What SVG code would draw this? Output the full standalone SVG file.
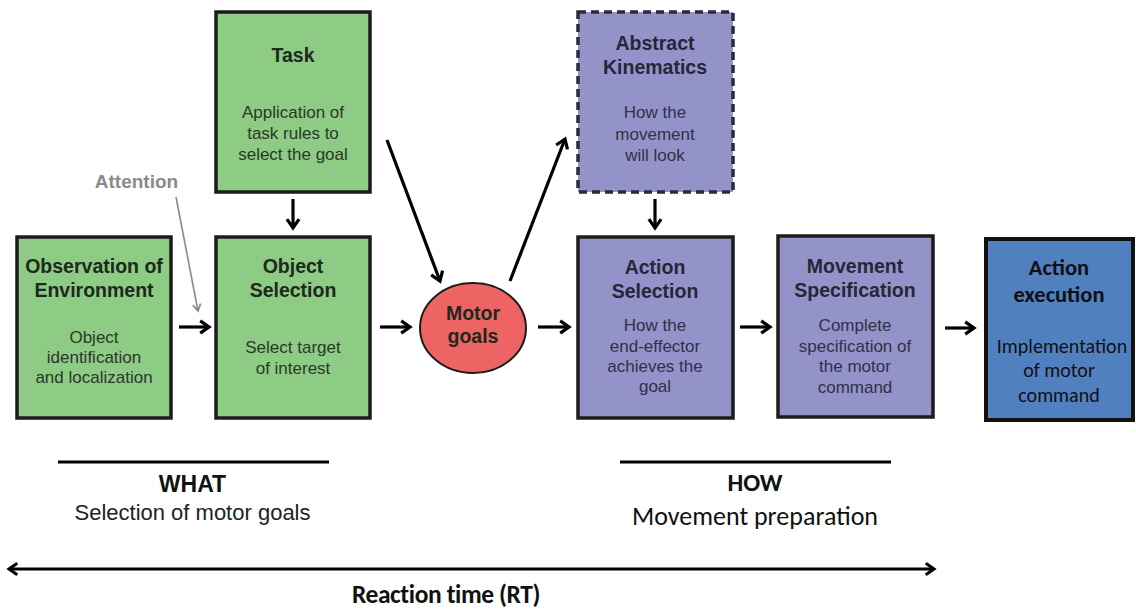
<svg xmlns="http://www.w3.org/2000/svg" width="1136" height="610" viewBox="0 0 1136 610">
  <defs>
    <marker id="chev" viewBox="0 0 10 10" refX="8" refY="5" markerWidth="5" markerHeight="5" orient="auto-start-reverse" markerUnits="strokeWidth">
      <polyline points="2.5,1.2 8,5 2.5,8.8" fill="none" stroke="#000" stroke-width="2" stroke-linejoin="miter"/>
    </marker>
    <marker id="chevgray" viewBox="0 0 10 10" refX="8" refY="5" markerWidth="7" markerHeight="7" orient="auto" markerUnits="strokeWidth">
      <polyline points="2,1.5 8,5 2,8.5" fill="none" stroke="#8a8a8a" stroke-width="1.6"/>
    </marker>
  </defs>
  <style>
    .box { stroke: #1c1c1c; stroke-width: 3.5; }
    .green { fill: #8ecb84; }
    .purple { fill: #9393c9; }
    .blue { fill: #5080bf; }
    .title { font-family: 'Liberation Sans', sans-serif; font-weight: bold; font-size: 19.5px; text-anchor: middle; fill: #1c291c; }
    .ptitle { fill: #262638; }
    .body { font-family: 'Liberation Sans', sans-serif; font-size: 17px; text-anchor: middle; fill: #2a382a; }
    .pbody { fill: #30304a; }
    .cal { font-family: Carlito, 'Liberation Sans', sans-serif; text-anchor: middle; fill: #111; }
    .arrow { stroke: #000; stroke-width: 3.2; fill: none; marker-end: url(#chev); }
  </style>

  <rect width="1136" height="610" fill="#ffffff"/>

  <!-- connectors -->
  <g id="connectors">
    <line class="arrow" x1="179" y1="327" x2="209" y2="327"/>
    <line class="arrow" x1="380" y1="327" x2="410" y2="327"/>
    <line class="arrow" x1="538" y1="327" x2="569" y2="327"/>
    <line class="arrow" x1="740" y1="327" x2="770" y2="327"/>
    <line class="arrow" x1="945" y1="328" x2="974" y2="328"/>
    <line class="arrow" x1="293" y1="199" x2="293" y2="228"/>
    <line class="arrow" x1="655" y1="199" x2="655" y2="228"/>
    <line class="arrow" x1="387" y1="140" x2="440" y2="281"/>
    <line class="arrow" x1="510" y1="281" x2="565" y2="139"/>
    <line x1="176" y1="197" x2="198" y2="311" stroke="#8a8a8a" stroke-width="1.6" marker-end="url(#chevgray)"/>
  </g>

  <!-- Task -->
  <g id="task">
    <rect class="box green" x="216" y="12" width="154" height="180"/>
    <text class="title" x="293" y="62" font-size="18">Task</text>
    <text class="body" x="293" y="118">Application of</text>
    <text class="body" x="293" y="139">task rules to</text>
    <text class="body" x="293" y="160">select the goal</text>
  </g>

  <!-- Attention label -->
  <g id="attention">
    <text x="136.5" y="188" font-family="'Liberation Sans', sans-serif" font-weight="bold" font-size="19" fill="#8a8a8a" text-anchor="middle">Attention</text>
  </g>

  <!-- Observation of Environment -->
  <g id="observation">
    <rect class="box green" x="17" y="237" width="154" height="181"/>
    <text class="title" x="94" y="273">Observation of</text>
    <text class="title" x="94" y="297">Environment</text>
    <text class="body" x="94" y="343">Object</text>
    <text class="body" x="94" y="363">identification</text>
    <text class="body" x="94" y="383">and localization</text>
  </g>

  <!-- Object Selection -->
  <g id="object-selection">
    <rect class="box green" x="216" y="237" width="154" height="181"/>
    <text class="title" x="293" y="273">Object</text>
    <text class="title" x="293" y="297">Selection</text>
    <text class="body" x="293" y="353">Select target</text>
    <text class="body" x="293" y="374">of interest</text>
  </g>

  <!-- Motor goals -->
  <g id="motor-goals">
    <ellipse cx="473" cy="328" rx="53" ry="45" fill="#ee6464" stroke="#1c1c1c" stroke-width="2"/>
    <text class="title" x="473" y="320" fill="#3a1414">Motor</text>
    <text class="title" x="473" y="343" fill="#3a1414">goals</text>
  </g>

  <!-- Abstract Kinematics -->
  <g id="abstract-kinematics">
    <rect x="578" y="12" width="155" height="180" class="purple" stroke="#2a2a3a" stroke-width="3.5" stroke-dasharray="8,5"/>
    <text class="title ptitle" x="655" y="50">Abstract</text>
    <text class="title ptitle" x="655" y="74">Kinematics</text>
    <text class="body pbody" x="655" y="118">How the</text>
    <text class="body pbody" x="655" y="140">movement</text>
    <text class="body pbody" x="655" y="161">will look</text>
  </g>

  <!-- Action Selection -->
  <g id="action-selection">
    <rect class="box purple" x="578" y="237" width="155" height="181"/>
    <text class="title ptitle" x="655" y="274">Action</text>
    <text class="title ptitle" x="655" y="298">Selection</text>
    <text class="body pbody" x="655" y="331">How the</text>
    <text class="body pbody" x="655" y="352">end-effector</text>
    <text class="body pbody" x="655" y="372">achieves the</text>
    <text class="body pbody" x="655" y="392">goal</text>
  </g>

  <!-- Movement Specification -->
  <g id="movement-specification">
    <rect class="box purple" x="778" y="236" width="155" height="181"/>
    <text class="title ptitle" x="855" y="273">Movement</text>
    <text class="title ptitle" x="855" y="297">Specification</text>
    <text class="body pbody" x="855" y="331">Complete</text>
    <text class="body pbody" x="855" y="352">specification of</text>
    <text class="body pbody" x="855" y="372">the motor</text>
    <text class="body pbody" x="855" y="393">command</text>
  </g>

  <!-- Action execution -->
  <g id="action-execution">
    <rect x="986" y="239" width="147" height="181" class="blue" stroke="#111" stroke-width="4"/>
    <text class="cal" x="1059" y="275" font-weight="bold" font-size="22.5" fill="#111a2a">Action</text>
    <text class="cal" x="1059" y="302" font-weight="bold" font-size="22.5" fill="#111a2a">execution</text>
    <text class="cal" x="1062" y="353" font-size="20" fill="#141c2c">Implementation</text>
    <text class="cal" x="1059" y="377" font-size="20" fill="#141c2c">of motor</text>
    <text class="cal" x="1059" y="402" font-size="20" fill="#141c2c">command</text>
  </g>

  <!-- phase labels -->
  <g id="what">
    <line x1="58" y1="462" x2="329" y2="462" stroke="#000" stroke-width="3"/>
    <text x="192.5" y="492" font-family="'Liberation Sans', sans-serif" font-weight="bold" font-size="23" fill="#111" text-anchor="middle">WHAT</text>
    <text x="192.5" y="520" font-family="'Liberation Sans', sans-serif" font-size="22" fill="#222" text-anchor="middle">Selection of motor goals</text>
  </g>
  <g id="how">
    <line x1="620" y1="462" x2="891" y2="462" stroke="#000" stroke-width="3"/>
    <text class="cal" x="755" y="491" font-weight="bold" font-size="25">HOW</text>
    <text class="cal" x="755" y="525" font-size="26" fill="#222">Movement preparation</text>
  </g>
  <g id="reaction-time">
    <line x1="9" y1="569" x2="934" y2="569" stroke="#000" stroke-width="3" marker-start="url(#chev)" marker-end="url(#chev)"/>
    <text class="cal" x="446" y="603" font-weight="bold" font-size="25.5" letter-spacing="-0.4">Reaction time (RT)</text>
  </g>
</svg>
